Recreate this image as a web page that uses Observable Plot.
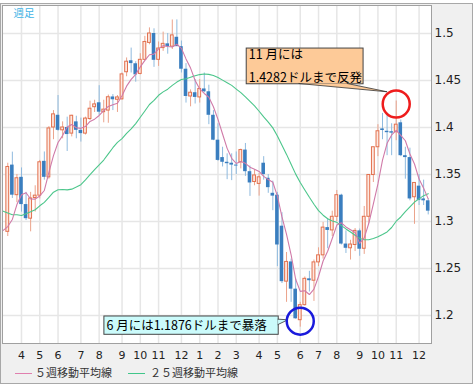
<!DOCTYPE html>
<html><head><meta charset="utf-8">
<script src="https://cdn.jsdelivr.net/npm/d3@7"></script>
<script src="https://cdn.jsdelivr.net/npm/@observablehq/plot@0.6"></script>
<style>
body{margin:0;background:#fff;}
#wrap{position:absolute;left:0;top:3px;width:471px;height:379px;border:1px solid #a8a8a8;background:#f0f0f0;overflow:hidden;}
#chart{position:absolute;left:0;top:0;}
.lg-line{position:absolute;height:1px;top:369px;}
.lg-text{position:absolute;top:361px;font-family:"Noto Sans CJK JP";font-size:11px;line-height:15px;color:#333;white-space:nowrap;}
</style></head>
<body>
<div id="wrap">
  <div id="chart"></div>
  <div class="lg-line" style="left:14px;width:17px;background:#e07fae;"></div>
  <div class="lg-text" style="left:34px;">５週移動平均線</div>
  <div class="lg-line" style="left:127px;width:17px;background:#40c68a;"></div>
  <div class="lg-text" style="left:149px;">２５週移動平均線</div>
</div>
<script>
// ---- data (weekly EUR/USD candles, first week 2009-03-16) ----
const firstWeek = "2009-03-16";
const open = [1.2890,1.3600,1.3280,1.3470,1.3180,1.3030,1.3250,1.3275,1.3640,1.3470,
1.4000,1.4130,1.3970,1.4000,1.3935,1.4060,1.3970,1.3935,1.4090,1.4216,
1.4263,1.4163,1.4180,1.4325,1.4295,1.4300,1.4588,1.4710,1.4678,1.4570,
1.4720,1.4900,1.5000,1.4720,1.4845,1.4890,1.4860,1.4960,1.4860,1.4620,
1.4330,1.4370,1.4320,1.4410,1.4380,1.4130,1.3865,1.3680,1.3630,1.3620,
1.3600,1.3630,1.3760,1.3530,1.3420,1.3400,1.3620,1.3460,1.3300,1.3280,
1.2950,1.2360,1.2570,1.2280,1.1950,1.2110,1.2390,1.2370,1.2565,1.2640,
1.2935,1.2905,1.3050,1.3280,1.2760,1.2715,1.2750,1.2900,1.2710,1.3050,
1.3495,1.3790,1.3985,1.3960,1.3955,1.3950,1.4050,1.3700,1.3680,1.3258,
1.3376,1.3240,1.3220];
const high = [1.3620,1.3738,1.3500,1.3570,1.3310,1.3310,1.3380,1.3650,1.3740,1.4010,
1.4180,1.4340,1.4060,1.4110,1.4130,1.4120,1.4100,1.4110,1.4280,1.4290,
1.4445,1.4290,1.4345,1.4350,1.4340,1.4580,1.4740,1.4845,1.4700,1.4785,
1.4970,1.5060,1.5050,1.4910,1.5015,1.5000,1.5144,1.5145,1.4920,1.4680,
1.4400,1.4510,1.4510,1.4580,1.4450,1.4180,1.4040,1.3790,1.3720,1.3720,
1.3740,1.3770,1.3830,1.3590,1.3550,1.3510,1.3690,1.3500,1.3430,1.3310,
1.3094,1.2670,1.2600,1.2390,1.2140,1.2410,1.2470,1.2590,1.2720,1.2990,
1.3030,1.3110,1.3330,1.3290,1.2900,1.2800,1.2925,1.2920,1.3160,1.3500,
1.3790,1.4030,1.4150,1.4155,1.4040,1.4282,1.4080,1.3790,1.3780,1.3410,
1.3500,1.3440,1.3240];
const low = [1.2840,1.3245,1.3200,1.3100,1.3010,1.2890,1.3100,1.3240,1.3440,1.3450,
1.3870,1.3960,1.3880,1.3745,1.3900,1.3880,1.3845,1.3920,1.4075,1.4160,
1.4130,1.4050,1.4045,1.4180,1.4160,1.4290,1.4540,1.4580,1.4482,1.4560,
1.4710,1.4880,1.4640,1.4650,1.4810,1.4780,1.4830,1.4880,1.4580,1.4260,
1.4220,1.4250,1.4260,1.4370,1.4030,1.3860,1.3640,1.3580,1.3445,1.3435,
1.3500,1.3560,1.3480,1.3267,1.3380,1.3270,1.3440,1.3300,1.3115,1.2520,
1.2340,1.2140,1.2140,1.1960,1.1876,1.2100,1.2250,1.2150,1.2520,1.2600,
1.2710,1.2840,1.3000,1.2750,1.2660,1.2590,1.2680,1.2630,1.2650,1.2980,
1.3415,1.3690,1.3870,1.3700,1.3700,1.3860,1.3690,1.3450,1.3220,1.2970,
1.3170,1.3170,1.3070];
const close = [1.3580,1.3280,1.3460,1.3180,1.3030,1.3245,1.3275,1.3630,1.3470,1.3990,
1.4140,1.3970,1.4000,1.3925,1.4125,1.3970,1.3935,1.4095,1.4200,1.4246,
1.4163,1.4190,1.4322,1.4295,1.4320,1.4565,1.4700,1.4680,1.4560,1.4720,
1.4910,1.5000,1.4715,1.4840,1.4890,1.4860,1.4980,1.4860,1.4620,1.4330,
1.4370,1.4320,1.4410,1.4380,1.4130,1.3865,1.3650,1.3630,1.3615,1.3600,
1.3590,1.3760,1.3530,1.3410,1.3490,1.3470,1.3500,1.3360,1.3270,1.2750,
1.2360,1.2570,1.2280,1.1965,1.2110,1.2390,1.2370,1.2565,1.2640,1.2935,
1.2905,1.3050,1.3280,1.2760,1.2715,1.2755,1.2900,1.2705,1.3050,1.3495,
1.3790,1.3960,1.3968,1.3945,1.3940,1.4030,1.3700,1.3680,1.3240,1.3410,
1.3225,1.3220,1.3110];

// moving averages (first value = week of 2009-03-09)
const maStart = "2009-03-09";
const ma5 = [1.2905,1.2946,1.3022,1.3180,1.3284,1.3306,1.3239,1.3238,1.3272,1.3330,
1.3522,1.3701,1.3840,1.3914,1.4005,1.4032,1.3998,1.3991,1.4010,1.4065,
1.4089,1.4128,1.4179,1.4224,1.4243,1.4258,1.4338,1.4440,1.4512,1.4565,
1.4645,1.4714,1.4774,1.4781,1.4837,1.4871,1.4861,1.4857,1.4886,1.4842,
1.4730,1.4632,1.4500,1.4410,1.4362,1.4322,1.4221,1.4087,1.3931,1.3778,
1.3672,1.3617,1.3639,1.3619,1.3578,1.3556,1.3532,1.3480,1.3446,1.3418,
1.3270,1.3048,1.2862,1.2646,1.2385,1.2257,1.2263,1.2223,1.2280,1.2415,
1.2580,1.2683,1.2819,1.2962,1.2986,1.2942,1.2912,1.2882,1.2767,1.2825,
1.2981,1.3188,1.3400,1.3653,1.3832,1.3921,1.3969,1.3917,1.3859,1.3718,
1.3612,1.3451,1.3355,1.3241];
const ma25 = [1.3110,1.3091,1.3071,1.3072,1.3063,1.3083,1.3103,1.3125,1.3167,1.3204,
1.3256,1.3312,1.3338,1.3340,1.3336,1.3344,1.3366,1.3392,1.3443,1.3499,
1.3551,1.3602,1.3654,1.3720,1.3785,1.3841,1.3881,1.3938,1.3986,1.4042,
1.4109,1.4176,1.4245,1.4288,1.4343,1.4379,1.4408,1.4448,1.4483,1.4510,
1.4519,1.4535,1.4550,1.4563,1.4570,1.4565,1.4553,1.4532,1.4504,1.4477,
1.4448,1.4409,1.4371,1.4325,1.4279,1.4230,1.4173,1.4113,1.4058,1.3996,
1.3910,1.3810,1.3714,1.3610,1.3504,1.3415,1.3336,1.3258,1.3184,1.3115,
1.3067,1.3029,1.3005,1.2991,1.2956,1.2921,1.2888,1.2853,1.2820,1.2806,
1.2806,1.2819,1.2837,1.2862,1.2889,1.2936,1.3003,1.3048,1.3104,1.3155,
1.3207,1.3241,1.3275,1.3296];

// axis ticks
const monthTickDates = ["2009-04-06","2009-05-04","2009-06-01","2009-07-06","2009-08-03","2009-09-07",
"2009-10-05","2009-11-02","2009-12-07","2010-01-04","2010-02-01","2010-03-01","2010-04-05",
"2010-05-03","2010-06-07","2010-07-05","2010-08-02","2010-09-06","2010-10-04","2010-11-01","2010-12-06"];
const monthLabels = ["4","5","6","7","8","9","10","11","12","1","2","3","4","5","6","7","8","9","10","11","12"];
const yTicks = [1.2,1.25,1.3,1.35,1.4,1.45,1.5];
const yTickLabels = ["1.2","1.25","1.3","1.35","1.4","1.45","1.5"];

// annotations
const noteHigh = {date:"2010-11-01", price:1.4282, line1:"11 月には", line2:"1.4282ドルまで反発"};
const noteLow  = {date:"2010-06-07", price:1.1876, text:"6 月には1.1876ドルまで暴落"};

// ---- build ----
const D = s => new Date(s + "T00:00Z");
const weeks = open.map((_, i) => d3.utcDay.offset(D(firstWeek), 7 * i));
const candles = weeks.map((date, i) => ({date, open: open[i], high: high[i], low: low[i], close: close[i]}));
const up = candles.filter(d => d.close >= d.open);
const down = candles.filter(d => d.close < d.open);
const maDates = ma5.map((_, i) => d3.utcDay.offset(D(maStart), 7 * i));
const ma5Data = ma5.map((v, i) => ({date: maDates[i], v}));
const ma25Data = ma25.map((v, i) => ({date: maDates[i], v}));
const monthTicks = monthTickDates.map(D);
const labelMap = new Map(monthTicks.map((d, i) => [+d, monthLabels[i]]));
const yLabelMap = new Map(yTicks.map((d, i) => [d, yTickLabels[i]]));

// callout geometry in data space
const box1 = {x1: D("2010-03-17"), x2: D("2010-09-12"), y1: 1.4460, y2: 1.4840};
const tail1 = [
  {x: D("2010-06-05"), y: 1.4468}, {x: D("2010-10-18"), y: 1.4380}, {x: D("2010-08-18"), y: 1.4468}
];
const box2 = {x1: D("2009-08-11"), x2: D("2010-05-05"), y1: 1.17947, y2: 1.19894};
const tail2 = [
  {x: D("2010-05-04"), y: 1.19606}, {x: D("2010-05-19"), y: 1.19543}, {x: D("2010-05-04"), y: 1.19043}
];

const upStroke = "#e2714f", upFill = "#fde8e0", upWick = "#eba38b";
const downFill = "#3a7ebf", downWick = "#8fbade";
const halfDown = 66, halfUp = 52; // hours
const noteFont = {fontFamily: "Noto Sans CJK JP", fontSize: 12.5, fill: "#000", textAnchor: "start"};

const chart = Plot.plot({
  width: 471, height: 359,
  marginLeft: 1, marginRight: 41, marginTop: 1, marginBottom: 20,
  style: {fontFamily: "DejaVu Sans", fontSize: "12px", color: "#222", background: "transparent", overflow: "visible"},
  x: {type: "utc", domain: [new Date("2009-03-07T22:00Z"), new Date("2010-12-25T01:00Z")],
      ticks: monthTicks, tickFormat: d => labelMap.get(+d), tickSize: 0, tickPadding: 8, label: null},
  y: {domain: [1.1702, 1.5298], axis: "right", ticks: yTicks, tickFormat: d => yLabelMap.get(d) ?? String(d),
      tickSize: 0, tickPadding: 3, label: null},
  marks: [
    Plot.frame({fill: "white", stroke: "none"}),
    Plot.ruleY(yTicks, {stroke: "#e6e6e6", strokeWidth: 1.5}),
    Plot.ruleX(monthTicks, {stroke: "#e6e6e6", strokeWidth: 1.5}),
    Plot.ruleX(down, {x: "date", y1: "low", y2: "high", stroke: downWick, strokeWidth: 1}),
    Plot.ruleX(up, {x: "date", y1: "low", y2: "high", stroke: upWick, strokeWidth: 1}),
    Plot.rect(down, {x1: d => d3.utcHour.offset(d.date, -halfDown), x2: d => d3.utcHour.offset(d.date, halfDown),
      y1: "open", y2: "close", fill: downFill}),
    Plot.rect(up, {x1: d => d3.utcHour.offset(d.date, -halfUp), x2: d => d3.utcHour.offset(d.date, halfUp),
      y1: "open", y2: "close", fill: upFill, stroke: upStroke, strokeWidth: 1}),
    Plot.line(ma25Data, {x: "date", y: "v", stroke: "#4cc68b", strokeWidth: 1.1}),
    Plot.line(ma5Data, {x: "date", y: "v", stroke: "#d07aa8", strokeWidth: 1.1}),
    Plot.text(["週足"], {text: d => d, frameAnchor: "top-left", dx: 11, dy: 4, fill: "#3fb4e6",
      fontFamily: "Noto Sans CJK JP", fontSize: 10.5, textAnchor: "start", lineAnchor: "top"}),
    // callout 1
    Plot.rect([box1], {x1: "x1", x2: "x2", y1: "y1", y2: "y2", fill: "#fdca98", stroke: "#444", strokeWidth: 1}),
    Plot.line(tail1, {x: "x", y: "y", fill: "#fdca98", stroke: "none"}),
    Plot.line(tail1, {x: "x", y: "y", stroke: "#333", strokeWidth: 0.8}),
    Plot.text([noteHigh], {x: () => box1.x1, y: () => box1.y2, text: "line1", dx: 2, dy: 2,
      lineAnchor: "top", ...noteFont}),
    Plot.text([noteHigh], {x: () => box1.x1, y: () => box1.y1, text: "line2", dx: 2, dy: -2,
      lineAnchor: "bottom", ...noteFont}),
    // callout 2
    Plot.rect([box2], {x1: "x1", x2: "x2", y1: "y1", y2: "y2", fill: "#cbfbfb", stroke: "#444", strokeWidth: 1}),
    Plot.line(tail2, {x: "x", y: "y", fill: "#cbfbfb", stroke: "none"}),
    Plot.line(tail2, {x: "x", y: "y", stroke: "#333", strokeWidth: 0.8}),
    Plot.text([noteLow], {x: () => box2.x1, y: () => (box2.y1 + box2.y2) / 2, text: "text", dx: 2,
      lineAnchor: "middle", ...noteFont}),
    // circles
    Plot.dot([noteHigh], {x: d => D(d.date), y: "price", r: 13.5, dy: 3, fill: "none", stroke: "#ee1c1c", strokeWidth: 2.5}),
    Plot.dot([noteLow], {x: d => D(d.date), y: "price", r: 13.5, dy: -6, fill: "none", stroke: "#1a1adc", strokeWidth: 2.5}),
    Plot.frame({stroke: "#a0a0a0"})
  ]
});
chart.querySelectorAll('g[aria-label^="x-axis"] text').forEach(t => t.setAttribute("font-size", "11"));
document.getElementById("chart").appendChild(chart);
</script>
</body></html>
